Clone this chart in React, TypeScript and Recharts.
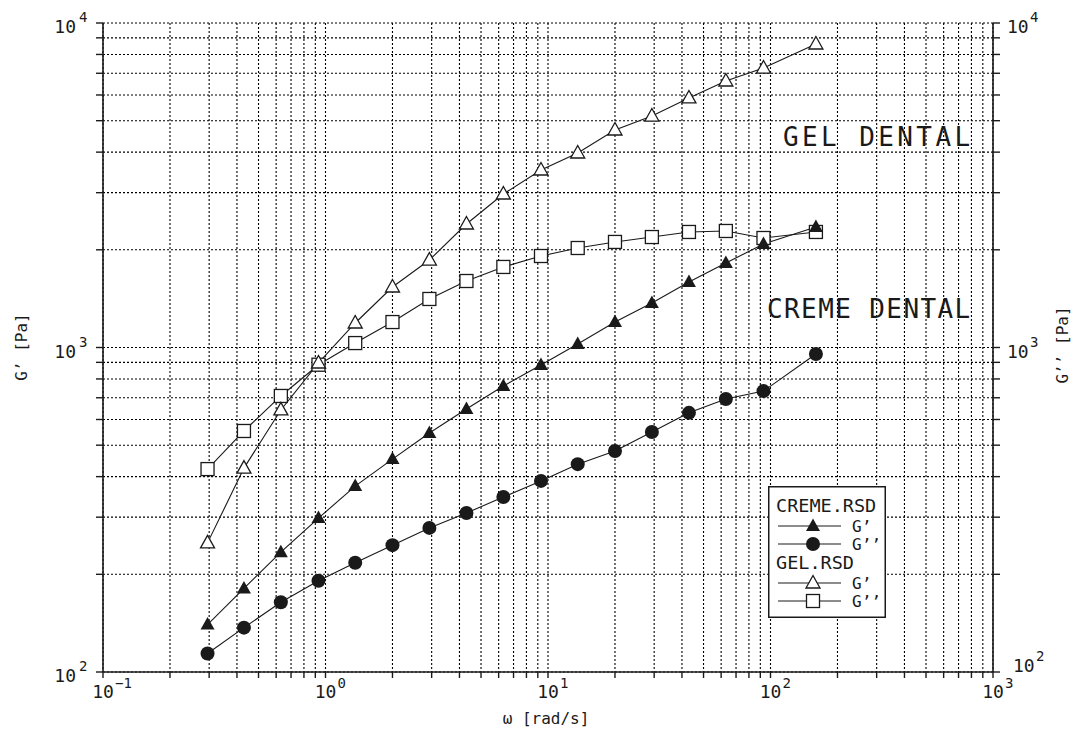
import React from 'react';
import { LineChart, Line, XAxis, YAxis, CartesianGrid, Legend, Customized } from 'recharts';

const FONT = '"DejaVu Sans Mono", "DejaVu Sans", monospace';
const INK = '#1a1a1a';

// angular frequency ω [rad/s]
const freq = [0.295, 0.43, 0.63, 0.93, 1.36, 2.0, 2.93, 4.3, 6.3, 9.3, 13.6, 20, 29.3, 43, 63, 93, 160];
// CREME.RSD
const cremeG1 = [140, 181, 234, 298, 374, 453, 545, 646, 761, 883, 1025, 1198, 1371, 1592, 1821, 2084, 2351];
const cremeG2 = [114, 137, 164, 191, 217, 246, 278, 309, 346, 388, 437, 480, 549, 629, 694, 734, 955];
// GEL.RSD
const gelG1 = [250, 425, 642, 896, 1190, 1536, 1860, 2402, 2972, 3524, 3976, 4681, 5168, 5875, 6626, 7264, 8615];
const gelG2 = [422, 553, 709, 885, 1032, 1198, 1411, 1603, 1771, 1914, 2026, 2115, 2190, 2270, 2286, 2175, 2270];

const xTicks = [0.1, 0.2, 0.3, 0.4, 0.5, 0.6, 0.7, 0.8, 0.9, 1, 2, 3, 4, 5, 6, 7, 8, 9, 10, 20, 30, 40, 50, 60, 70, 80, 90, 100, 200, 300, 400, 500, 600, 700, 800, 900, 1000];
const yTicks = [100, 200, 300, 400, 500, 600, 700, 800, 900, 1000, 2000, 3000, 4000, 5000, 6000, 7000, 8000, 9000, 10000];
const xMajor = [0.1, 1, 10, 100, 1000];
const xExp = ['−1', '0', '1', '2', '3'];
const yMajor = [100, 1000, 10000];
const yExp = ['2', '3', '4'];

const rows = freq.map((w, i) => ({ w, cremeG1: cremeG1[i], cremeG2: cremeG2[i], gelG1: gelG1[i], gelG2: gelG2[i] }));

type Kind = 'ftri' | 'otri' | 'fcir' | 'osq';

function Marker({ kind, cx, cy }: { kind: Kind; cx: number; cy: number }) {
  if (kind === 'ftri')
    return <polygon points={`${cx},${cy - 7.5} ${cx - 7},${cy + 5} ${cx + 7},${cy + 5}`} fill={INK} />;
  if (kind === 'otri')
    return <polygon points={`${cx},${cy - 7.5} ${cx - 7},${cy + 5} ${cx + 7},${cy + 5}`} fill="#fff" stroke={INK} strokeWidth={1.3} />;
  if (kind === 'fcir') return <circle cx={cx} cy={cy} r={7} fill={INK} />;
  return <rect x={cx - 6.5} y={cy - 6.5} width={13} height={13} fill="#fff" stroke={INK} strokeWidth={1.3} />;
}

const dotOf = (kind: Kind) => (p: any) => {
  if (p.cx == null || p.cy == null) return <g key={`e${p.index}`} />;
  return (
    <g key={`${kind}-${p.index}`}>
      <Marker kind={kind} cx={p.cx} cy={p.cy} />
    </g>
  );
};

const XTick = (props: any) => {
  const { x, y, payload } = props;
  const idx = xMajor.findIndex((v) => Math.abs(v - payload.value) < 1e-9);
  if (idx < 0) return <g />;
  return (
    <g fontFamily={FONT} fill={INK}>
      <text x={x} y={y + 18} fontSize={18} textAnchor="middle">10</text>
      <text x={x + 12} y={y + 8} fontSize={14} textAnchor="start">{xExp[idx]}</text>
    </g>
  );
};

const YTickLeft = (props: any) => {
  const { x, y, payload } = props;
  const idx = yMajor.findIndex((v) => Math.abs(v - payload.value) < 1e-6);
  if (idx < 0) return <g />;
  return (
    <g fontFamily={FONT} fill={INK}>
      <text x={x - 18} y={y + 10} fontSize={18} textAnchor="end">10</text>
      <text x={x - 15} y={y - 1} fontSize={14} textAnchor="start">{yExp[idx]}</text>
    </g>
  );
};

const YTickRight = (props: any) => {
  const { x, y, payload } = props;
  const idx = yMajor.findIndex((v) => Math.abs(v - payload.value) < 1e-6);
  if (idx < 0) return <g />;
  const dy = payload.value === 100 ? -10 : 0;
  const dx = payload.value === 100 ? 6 : 0;
  return (
    <g fontFamily={FONT} fill={INK}>
      <text x={x + 5 + dx} y={y + 10 + dy} fontSize={18} textAnchor="start">10</text>
      <text x={x + 28 + dx} y={y - 1 + dy} fontSize={14} textAnchor="start">{yExp[idx]}</text>
    </g>
  );
};

const legendRows: { kind: Kind; label: string; y: number }[] = [
  { kind: 'ftri', label: 'G’', y: 40 },
  { kind: 'fcir', label: 'G’’', y: 58 },
  { kind: 'otri', label: 'G’', y: 97 },
  { kind: 'osq', label: 'G’’', y: 115 },
];

const LegendBox = () => (
  <svg width={118} height={132} style={{ display: 'block' }}>
    <rect x={0.75} y={0.75} width={116.5} height={130.5} fill="#fff" stroke={INK} strokeWidth={1.5} />
    <g fontFamily={FONT} fill={INK}>
      <text x={8} y={26} fontSize={18.5}>CREME.RSD</text>
      <text x={8} y={83} fontSize={18.5}>GEL.RSD</text>
      {legendRows.map((r, i) => (
        <g key={i}>
          <line x1={10} x2={73} y1={r.y} y2={r.y} stroke={INK} strokeWidth={1.1} />
          <Marker kind={r.kind} cx={45} cy={r.y} />
          <text x={84} y={r.y + 6} fontSize={16}>{r.label}</text>
        </g>
      ))}
    </g>
  </svg>
);

const Annotations = () => (
  <g fontFamily={FONT} fill={INK}>
    <text x={783} y={146} fontSize={26} letterSpacing={3.4}>GEL DENTAL</text>
    <text x={767} y={318} fontSize={26} letterSpacing={1.4}>CREME DENTAL</text>
    <text x={546} y={724} fontSize={16} textAnchor="middle">ω [rad/s]</text>
    <text x={0} y={0} fontSize={16} textAnchor="middle" transform="translate(27 347) rotate(-90)">G’ [Pa]</text>
    <text x={0} y={0} fontSize={16} textAnchor="middle" transform="translate(1068 345) rotate(-90)">G’’ [Pa]</text>
  </g>
);

export default function App() {
  return (
    <div style={{ position: 'absolute', left: 0, top: 0, width: 1083, height: 729, background: '#fff' }}>
      <LineChart width={1083} height={729} data={rows} margin={{ top: 23, right: 0, bottom: 0, left: 0 }}>
        <CartesianGrid yAxisId="left" stroke="#000" strokeDasharray="2 2" strokeWidth={1.1} />
        <XAxis
          dataKey="w"
          type="number"
          scale="log"
          domain={[0.1, 1000]}
          ticks={xTicks}
          allowDataOverflow
          interval={0}
          height={57}
          tick={<XTick />}
          tickSize={6}
          axisLine={{ stroke: INK, strokeWidth: 1.6 }}
          tickLine={{ stroke: INK, strokeWidth: 1.4 }}
        />
        <YAxis
          yAxisId="left"
          type="number"
          scale="log"
          domain={[100, 10000]}
          ticks={yTicks}
          allowDataOverflow
          interval={0}
          width={103}
          tick={<YTickLeft />}
          tickSize={7}
          axisLine={{ stroke: INK, strokeWidth: 1.6 }}
          tickLine={{ stroke: INK, strokeWidth: 1.4 }}
        />
        <YAxis
          yAxisId="right"
          orientation="right"
          type="number"
          scale="log"
          domain={[100, 10000]}
          ticks={yTicks}
          allowDataOverflow
          interval={0}
          width={90}
          tick={<YTickRight />}
          tickSize={7}
          axisLine={{ stroke: INK, strokeWidth: 1.6 }}
          tickLine={{ stroke: INK, strokeWidth: 1.4 }}
        />
        <Line yAxisId="left" type="linear" dataKey="gelG2" stroke={INK} strokeWidth={1.1} dot={dotOf('osq')} activeDot={false} isAnimationActive={false} />
        <Line yAxisId="left" type="linear" dataKey="gelG1" stroke={INK} strokeWidth={1.1} dot={dotOf('otri')} activeDot={false} isAnimationActive={false} />
        <Line yAxisId="left" type="linear" dataKey="cremeG2" stroke={INK} strokeWidth={1.1} dot={dotOf('fcir')} activeDot={false} isAnimationActive={false} />
        <Line yAxisId="left" type="linear" dataKey="cremeG1" stroke={INK} strokeWidth={1.1} dot={dotOf('ftri')} activeDot={false} isAnimationActive={false} />
        <Legend
          layout="vertical"
          align="center"
          verticalAlign="middle"
          content={<LegendBox />}
          wrapperStyle={{ left: 768, top: 486, width: 118, height: 132 }}
        />
        <Customized component={<Annotations />} />
      </LineChart>
    </div>
  );
}
